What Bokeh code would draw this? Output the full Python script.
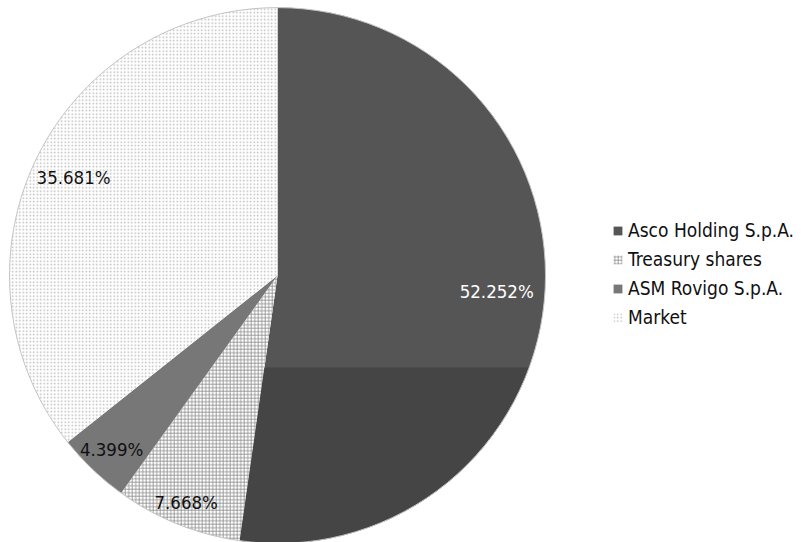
import numpy as np
from bokeh.plotting import figure
from bokeh.models import Range1d, ColumnDataSource, Legend, LegendItem
from bokeh.core.properties import value
from bokeh.embed import file_html
from bokeh.resources import INLINE

# ---- data ----
categories = ["Asco Holding S.p.A.", "Treasury shares", "ASM Rovigo S.p.A.", "Market"]
shares = [52.252, 7.668, 4.399, 35.681]
label_texts = ["52.252%", "7.668%", "4.399%", "35.681%"]

# ---- styles ----
fill_colors = ["#555555", "#ffffff", "#777777", "#ffffff"]
hatches = [" ", "+", " ", "."]
hatch_colors = [None, "#888888", None, "#bbbbbb"]
label_colors = ["#ffffff", "#111111", "#111111", "#111111"]
label_rfrac = [0.82, 0.913, 0.897, 0.845]
FONT = "DejaVu Sans Condensed"

W, H = 801, 542
CX, CY, R = 277.0, 267.0, 268.0
BAND_DY = 92.0  # darker lower band of first slice

p = figure(width=W, height=H, output_backend="svg", toolbar_location=None,
           x_range=Range1d(0, W), y_range=Range1d(0, H), min_border=0)
p.axis.visible = False
p.grid.visible = False
p.outline_line_color = None
p.background_fill_color = "white"

total = float(sum(shares))
fr = np.array(shares) / total
cum = np.concatenate([[0.0], np.cumsum(fr)])
starts = np.pi / 2 - cum[:-1] * 2 * np.pi
ends = np.pi / 2 - cum[1:] * 2 * np.pi

renderers = []
for i, cat in enumerate(categories):
    src = ColumnDataSource(dict(x=[CX], y=[CY], s=[starts[i]], e=[ends[i]]))
    kw = dict(x="x", y="y", radius=R, start_angle="s", end_angle="e",
              direction="clock", source=src, fill_color=fill_colors[i],
              line_color=None)
    if hatches[i] != " ":
        kw.update(hatch_pattern=hatches[i], hatch_color=hatch_colors[i],
                  hatch_scale=3.5, hatch_weight=0.8)
    r = p.wedge(**kw)
    renderers.append(r)

# darker lower band of the first slice
te = ends[0]
tc = np.arctan2(-BAND_DY, np.sqrt(R**2 - BAND_DY**2))
t_rad = BAND_DY / -np.sin(te)
arc = np.linspace(tc, te, 80)
bx = [CX + t_rad * np.cos(te)] + list(CX + R * np.cos(arc))
by = [CY + t_rad * np.sin(te)] + list(CY + R * np.sin(arc))
p.patch(bx, by, fill_color="#454545", line_color=None)

# outer rim
p.circle(x=[CX], y=[CY], radius=R, fill_color=None, line_color="#c4c4c4", line_width=1)

# labels
mids = (starts + ends) / 2
lx = CX + np.array(label_rfrac) * R * np.cos(mids)
ly = CY + np.array(label_rfrac) * R * np.sin(mids)
p.text(x=lx, y=ly, text=label_texts, text_color=label_colors,
       text_font=value(FONT), text_font_size="18.5px",
       text_align="center", text_baseline="middle")

legend = Legend(items=[LegendItem(label=c, renderers=[renderers[i]]) for i, c in enumerate(categories)],
                location=(612, 214), orientation="vertical")
legend.glyph_width = 11
legend.glyph_height = 11
legend.label_standoff = 5
legend.label_height = 20
legend.spacing = 7
legend.padding = 0
legend.margin = 0
legend.border_line_color = None
legend.background_fill_alpha = 0
legend.label_text_font = FONT
legend.label_text_font_size = "19px"
legend.label_text_color = "#111111"
p.add_layout(legend, "center")

open("out.html", "w").write(file_html(p, INLINE))
